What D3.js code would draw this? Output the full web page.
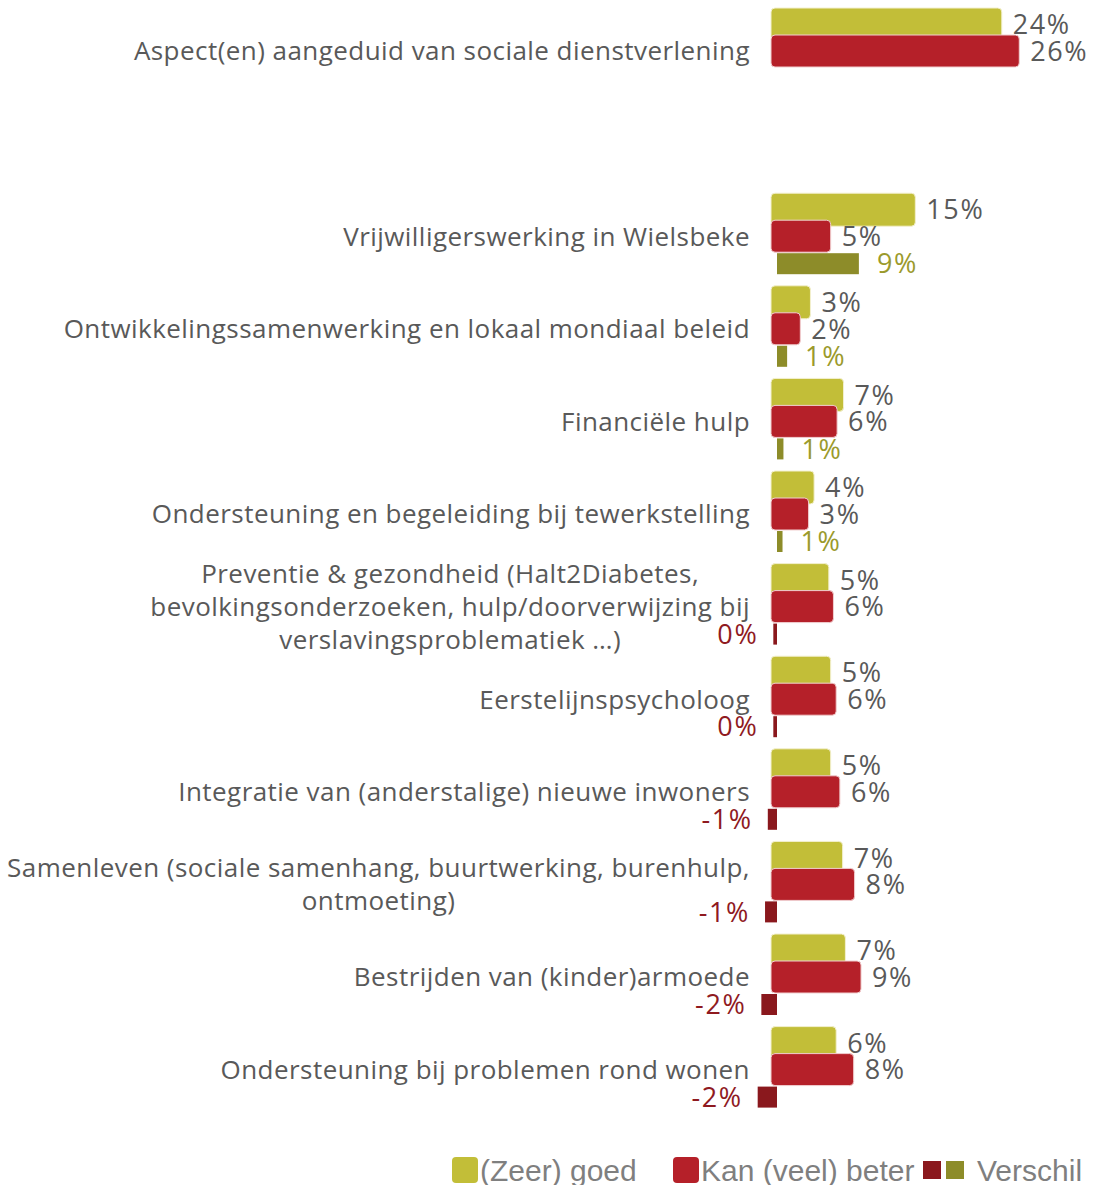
<!DOCTYPE html>
<html>
<head>
  <meta charset="utf-8" />
  <title>Sociale dienstverlening</title>
  <style type="text/css">
    body {
      margin: 0;
      background: #fff;
    }
    svg text {
      font-family: 'Open Sans', sans-serif;
    }
  </style>
</head>
<body>
  <div id="graph"></div>

  <script src="https://cdn.jsdelivr.net/npm/d3@7"></script>
  <script>
// categories, top to bottom (the first one stands apart above a blank row)
var categories = [
  "Aspect(en) aangeduid van sociale dienstverlening",
  "Vrijwilligerswerking in Wielsbeke",
  "Ontwikkelingssamenwerking en lokaal mondiaal beleid",
  "Financiële hulp",
  "Ondersteuning en begeleiding bij tewerkstelling",
  "Preventie & gezondheid (Halt2Diabetes,\nbevolkingsonderzoeken, hulp/doorverwijzing bij\nverslavingsproblematiek …)",
  "Eerstelijnspsycholoog",
  "Integratie van (anderstalige) nieuwe inwoners",
  "Samenleven (sociale samenhang, buurtwerking, burenhulp,\nontmoeting)",
  "Bestrijden van (kinder)armoede",
  "Ondersteuning bij problemen rond wonen"
];

// (Zeer) goed
var goed = [0.240, 0.146, 0.032, 0.068, 0.036, 0.052, 0.054, 0.054, 0.067, 0.070, 0.060];
// Kan (veel) beter
var beter = [0.259, 0.054, 0.021, 0.061, 0.030, 0.057, 0.060, 0.064, 0.080, 0.087, 0.079];
// Verschil (none for the first row)
var verschil = [null, 0.089, 0.011, 0.007, 0.006, -0.004, -0.004, -0.010, -0.013, -0.017, -0.021];

var legendLabels = ["(Zeer) goed", "Kan (veel) beter", "Verschil"];

var colGoed = "#c2be38",
    colBeter = "#b52029",
    colPos = "#8d8c29",
    colNeg = "#8a181d",
    colPosText = "#9b9a2c",
    colNegText = "#8f1a1f",
    colText = "#595959";

var width = 1096, height = 1185;

var svg = d3.select("#graph").append("svg")
    .attr("width", width)
    .attr("height", height);

// one slot per category, with an empty slot after the first one
var slots = categories.map(function(d, i) { return i === 0 ? 0 : i + 1; });
var y = d3.scaleBand().domain(d3.range(12)).range([8, 8 + 12 * 92.6]);

var x = d3.scaleLinear().domain([0, 0.30]).range([777, 777 + 276]);
var barStart = x(0) - 6;

var fmt = d3.formatLocale({decimal: ".", thousands: ",", grouping: [3], currency: ["", ""], minus: "-"}).format(".0%");

var rows = categories.map(function(c, i) {
  return {cat: c, top: y(slots[i]), goed: goed[i], beter: beter[i], diff: verschil[i]};
});

var g = svg.append("g");

// green bars
g.selectAll(".goed").data(rows).enter().append("rect")
    .attr("class", "goed")
    .attr("x", barStart)
    .attr("y", function(d) { return d.top; })
    .attr("width", function(d) { return x(d.goed) + 4 - barStart; })
    .attr("height", 33)
    .attr("rx", 4)
    .attr("fill", colGoed)
    .attr("stroke", "#f3f0cf")
    .attr("stroke-width", 1);

// red bars
g.selectAll(".beter").data(rows).enter().append("rect")
    .attr("class", "beter")
    .attr("x", barStart)
    .attr("y", function(d) { return d.top + 27; })
    .attr("width", function(d) { return x(d.beter) + 4 - barStart; })
    .attr("height", 32)
    .attr("rx", 4)
    .attr("fill", colBeter)
    .attr("stroke", "#f1cfd0")
    .attr("stroke-width", 1);

// difference bars
var diffRows = rows.filter(function(d) { return d.diff !== null; });
g.selectAll(".diff").data(diffRows).enter().append("rect")
    .attr("class", "diff")
    .attr("x", function(d) { return Math.min(x(0), x(d.diff)); })
    .attr("y", function(d) { return d.top + 60; })
    .attr("width", function(d) { return Math.abs(x(d.diff) - x(0)); })
    .attr("height", 21)
    .attr("fill", function(d) { return d.diff >= 0 ? colPos : colNeg; });

// value labels
function valueText(sel) {
  sel.attr("dy", "0.36em")
    .style("font-size", "27px")
    .style("letter-spacing", "1.6px");
}

g.selectAll(".lgoed").data(rows).enter().append("text")
    .attr("x", function(d) { return x(d.goed) + 4 + 11; })
    .attr("y", function(d) { return d.top + 16.5; })
    .attr("fill", colText)
    .call(valueText)
    .text(function(d) { return fmt(d.goed); });

g.selectAll(".lbeter").data(rows).enter().append("text")
    .attr("x", function(d) { return x(d.beter) + 4 + 11; })
    .attr("y", function(d) { return d.top + 43; })
    .attr("fill", colText)
    .call(valueText)
    .text(function(d) { return fmt(d.beter); });

g.selectAll(".ldiff").data(diffRows).enter().append("text")
    .attr("x", function(d) { return d.diff >= 0 ? x(d.diff) + 18 : x(d.diff) - 15; })
    .attr("y", function(d) { return d.top + 70.5; })
    .attr("text-anchor", function(d) { return d.diff >= 0 ? "start" : "end"; })
    .attr("fill", function(d) { return d.diff >= 0 ? colPosText : colNegText; })
    .call(valueText)
    .text(function(d) { return fmt(d.diff); });

// category labels, centred on the red bar, right edge at 750
var labelRight = 750, lineH = 33;
var labels = g.selectAll(".cat").data(rows).enter().append("text")
    .attr("class", "cat")
    .attr("fill", colText)
    .style("font-size", "26px")
    .style("letter-spacing", "0.45px");

labels.each(function(d) {
  var t = d3.select(this);
  var lines = d.cat.split("\n");
  var cy = d.top + 43 - (lines.length - 1) * lineH / 2;
  lines.forEach(function(l, j) {
    t.append("tspan")
      .attr("y", cy + j * lineH)
      .attr("dy", "0.36em")
      .text(l);
  });
  // widest line decides the centre
  var w = 0;
  t.selectAll("tspan").each(function() { w = Math.max(w, this.getComputedTextLength()); });
  t.selectAll("tspan")
    .attr("x", labelRight - w / 2)
    .attr("text-anchor", "middle");
});

// legend
var leg = svg.append("g").attr("transform", "translate(0,1170)");
leg.append("rect").attr("x", 452).attr("y", -13).attr("width", 26).attr("height", 26).attr("rx", 4).attr("fill", colGoed);
leg.append("rect").attr("x", 673).attr("y", -13).attr("width", 26).attr("height", 26).attr("rx", 4).attr("fill", colBeter);
leg.append("rect").attr("x", 923).attr("y", -9).attr("width", 18).attr("height", 18).attr("fill", colNeg);
leg.append("rect").attr("x", 946).attr("y", -9).attr("width", 18).attr("height", 18).attr("fill", colPos);

var legX = [480, 701, 977];
leg.selectAll(".ltxt").data(legendLabels).enter().append("text")
    .attr("x", function(d, i) { return legX[i]; })
    .attr("y", 0)
    .attr("dy", "0.36em")
    .attr("fill", "#7f7f7f")
    .style("font-family", "'Liberation Sans', Arial, sans-serif")
    .style("font-size", "30px")
    .text(function(d) { return d; });
</script>
</body>
</html>
